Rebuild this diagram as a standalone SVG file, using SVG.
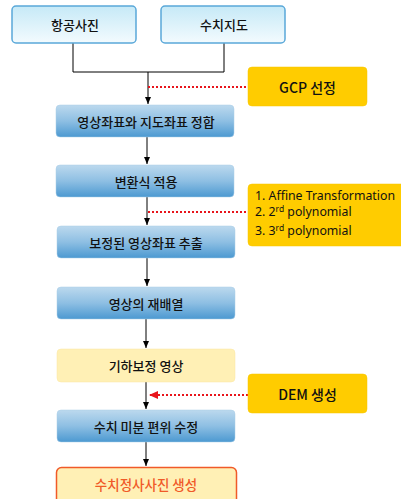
<svg xmlns="http://www.w3.org/2000/svg" width="401" height="499" viewBox="0 0 401 499">
<defs>
<linearGradient id="gTop" x1="0" y1="0" x2="0" y2="1">
<stop offset="0" stop-color="#C6E9F7"/><stop offset="1" stop-color="#F3FBFE"/>
</linearGradient>
<linearGradient id="gBlue" x1="0" y1="0" x2="0" y2="1">
<stop offset="0" stop-color="#BCD9EE"/><stop offset="0.5" stop-color="#8EBFE3"/><stop offset="1" stop-color="#4C99D1"/>
</linearGradient>
<marker id="ah" markerWidth="8" markerHeight="8" refX="7" refY="4" orient="auto" markerUnits="userSpaceOnUse">
<path d="M0,1 L7,4 L0,7 z" fill="#000"/>
</marker>
<marker id="ahr" markerWidth="10" markerHeight="10" refX="9" refY="5" orient="auto" markerUnits="userSpaceOnUse">
<path d="M0,1 L9,5 L0,9 z" fill="#E8141B"/>
</marker>
</defs>
<style>
.top{fill:url(#gTop);stroke:#5AA8D9;stroke-width:1.5}
.blue{fill:url(#gBlue);stroke:#A9CCE6;stroke-width:0.5}
.yel{fill:#FFF0B5;stroke:#FBE7A3;stroke-width:0.5}
.gold{fill:#FFCC00;stroke:#F6C600;stroke-width:0.5}
.t{font-family:"Noto Sans CJK KR","Noto Sans",sans-serif;font-size:13px;font-weight:500;fill:#111;text-anchor:middle;dominant-baseline:central}
.g{font-size:14px}
.info{font-family:"Noto Sans","Noto Sans CJK KR",sans-serif;font-size:12.3px;fill:#111}
.ln{stroke:#000;stroke-width:1;fill:none}
.red{stroke:#E8141B;stroke-width:2;stroke-dasharray:2,2;fill:none}
</style>
<g id="connectors">
<path class="ln" d="M73,43 V72 H224 V43"/>
<path class="ln" d="M148,72 V104" marker-end="url(#ah)"/>
<path class="ln" d="M147,137 V164" marker-end="url(#ah)"/>
<path class="ln" d="M147,197 V225" marker-end="url(#ah)"/>
<path class="ln" d="M147,258 V286" marker-end="url(#ah)"/>
<path class="ln" d="M146,319 V348" marker-end="url(#ah)"/>
<path class="ln" d="M146,382 V409" marker-end="url(#ah)"/>
<path class="ln" d="M146,442 V466" marker-end="url(#ah)"/>
<path class="red" d="M148,87 H248"/>
<path class="red" d="M148,212 H248"/>
<path class="red" d="M248,395 H149" marker-end="url(#ahr)"/>
</g>
<g id="n1"><rect class="top" x="12" y="6" width="124" height="37" rx="4"/><text class="t" x="75" y="24.5">항공사진</text></g>
<g id="n2"><rect class="top" x="161" y="6" width="124" height="37" rx="4"/><text class="t" x="224" y="24.5">수치지도</text></g>
<g id="gcp"><rect class="gold" x="248" y="67" width="119" height="39" rx="4"/><text class="t g" x="307.5" y="86.5">GCP 선정</text></g>
<g id="n3"><rect class="blue" x="56" y="105" width="178" height="32" rx="4"/><text class="t" x="146" y="121">영상좌표와 지도좌표 정합</text></g>
<g id="n4"><rect class="blue" x="56" y="165" width="178" height="32" rx="4"/><text class="t" x="146" y="181">변환식 적용</text></g>
<g id="info"><rect class="gold" x="248" y="184" width="165" height="62" rx="4"/>
<text class="info" x="255" y="200">1. Affine Transformation</text>
<text class="info" x="255" y="216">2. 2<tspan font-size="8.5" dy="-4">rd</tspan><tspan dy="4"> polynomial</tspan></text>
<text class="info" x="255" y="235">3. 3<tspan font-size="8.5" dy="-4">rd</tspan><tspan dy="4"> polynomial</tspan></text>
</g>
<g id="n5"><rect class="blue" x="57" y="226" width="178" height="32" rx="4"/><text class="t" x="146" y="242">보정된 영상좌표 추출</text></g>
<g id="n6"><rect class="blue" x="57" y="287" width="178" height="32" rx="4"/><text class="t" x="146" y="303">영상의 재배열</text></g>
<g id="n7"><rect class="yel" x="57" y="349" width="178" height="33" rx="4"/><text class="t" x="146" y="365.5" font-weight="700">기하보정 영상</text></g>
<g id="dem"><rect class="gold" x="248" y="374" width="119" height="39" rx="4"/><text class="t g" x="307.5" y="393.5">DEM 생성</text></g>
<g id="n8"><rect class="blue" x="57" y="410" width="178" height="32" rx="4"/><text class="t" x="146" y="426">수치 미분 편위 수정</text></g>
<g id="n9"><rect x="56.5" y="467.5" width="180" height="40" rx="5" fill="#FFF0B5" stroke="#F05A28" stroke-width="1.5"/><text class="t" x="146" y="484" style="fill:#F05A28;font-size:13.5px">수치정사사진 생성</text></g>
</svg>
